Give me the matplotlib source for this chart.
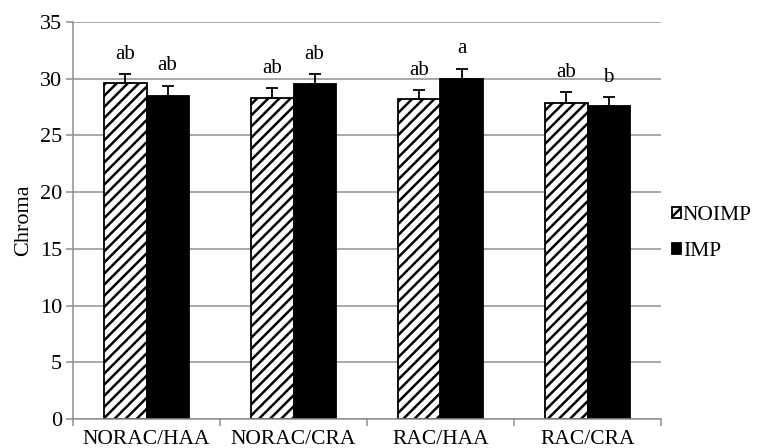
import matplotlib
matplotlib.use("Agg")
import matplotlib.pyplot as plt
import numpy as np

categories = ["NORAC/HAA", "NORAC/CRA", "RAC/HAA", "RAC/CRA"]
noimp = [29.6, 28.3, 28.2, 27.9]
noimp_err = [0.8, 0.9, 0.8, 0.9]
imp = [28.5, 29.5, 30.0, 27.6]
imp_err = [0.9, 0.9, 0.9, 0.8]
noimp_letters = ["ab", "ab", "ab", "ab"]
imp_letters = ["ab", "ab", "a", "b"]

plt.rcParams['font.family'] = ['Liberation Serif', 'DejaVu Serif']
plt.rcParams['hatch.linewidth'] = 1.8

fig = plt.figure(figsize=(7.62, 4.48), dpi=100)
ax = fig.add_axes([73/762, 1-419/448, (661-73)/762, (419-22)/448])

x = np.arange(len(categories))
w = 0.286
grid_c = "#909090"
ax.set_axisbelow(True)
ax.yaxis.grid(True, color=grid_c, lw=1.1)

b1 = ax.bar(x - w/2, noimp, w, color="white", edgecolor="black", hatch="///",
            lw=1.3, label="NOIMP")
b2 = ax.bar(x + w/2, imp, w, color="black", edgecolor="black", lw=1.3, label="IMP")
ax.errorbar(x - w/2, noimp, yerr=[np.zeros(4), noimp_err], fmt="none",
            ecolor="black", elinewidth=1.3, capsize=4, capthick=1.3)
ax.errorbar(x + w/2, imp, yerr=[np.zeros(4), imp_err], fmt="none",
            ecolor="black", elinewidth=1.3, capsize=4, capthick=1.3)

for i in range(len(categories)):
    ax.text(x[i] - w/2, noimp[i] + noimp_err[i] + 0.9, noimp_letters[i],
            ha="center", va="bottom", fontsize=15)
    ax.text(x[i] + w/2, imp[i] + imp_err[i] + 0.9, imp_letters[i],
            ha="center", va="bottom", fontsize=15)

ax.set_xlim(-0.5, len(categories) - 0.5)
ax.set_ylim(0, 35)
ax.set_yticks(np.arange(0, 36, 5))
ax.set_xticks(x)
ax.set_xticklabels(categories, fontsize=15.5)
ax.set_xticks(np.arange(-0.5, len(categories)), minor=True)
ax.tick_params(axis="x", which="major", length=0, pad=8)
ax.tick_params(axis="x", which="minor", length=5, color=grid_c, width=1.1)
ax.tick_params(axis="y", length=5, color=grid_c, width=1.1, labelsize=16, pad=3)
for s in ["top", "right"]:
    ax.spines[s].set_visible(False)
for s in ["left", "bottom"]:
    ax.spines[s].set_color(grid_c)
    ax.spines[s].set_linewidth(1.1)
ax.set_ylabel("Chroma", fontsize=16, labelpad=5)

leg = fig.legend(handles=[b1, b2], loc="center left",
                 bbox_to_anchor=(672/762, 1-233.5/448), frameon=False,
                 fontsize=15.5, handlelength=0.4, handleheight=0.4,
                 handletextpad=0.1, labelspacing=0.8, borderpad=0,
                 borderaxespad=0)

fig.savefig("out.png", dpi=100)
